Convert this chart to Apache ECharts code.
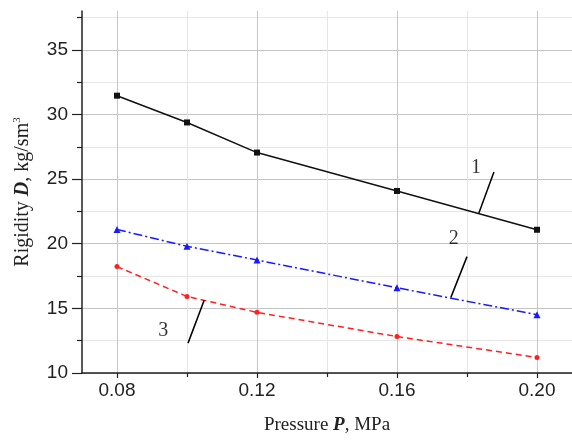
<!DOCTYPE html>
<html><head><meta charset="utf-8">
<script src="https://cdn.jsdelivr.net/npm/echarts@6/dist/echarts.min.js"></script>
<style>html,body{margin:0;padding:0;background:#fff}#c{width:572px;height:441px}</style>
</head><body><div id="c"></div>
<script>
const pressure = [0.08, 0.10, 0.12, 0.16, 0.20];
const rigidity1 = [31.45, 29.38, 27.05, 24.08, 21.08];
const rigidity2 = [21.1, 19.8, 18.74, 16.59, 14.51];
const rigidity3 = [18.23, 15.92, 14.69, 12.82, 11.2];
const xMajorTicks = [0.08, 0.12, 0.16, 0.20];
const xMinorTicks = [0.10, 0.14, 0.18];
const yMajorTicks = [10, 15, 20, 25, 30, 35];
const yMinorTicks = [12.5, 17.5, 22.5, 27.5, 32.5, 37.5];
const curveNames = ['1', '2', '3'];
const curveLabelPos = [[0.1826, 25.85], [0.1762, 20.4], [0.0932, 13.3]];
const leader1 = [[0.1877, 25.54], [0.1834, 22.38]];
const leader2 = [[0.1800, 19.0], [0.1754, 15.85]];
const leader3 = [[0.1049, 15.62], [0.1003, 12.31]];

const pair = (xs, ys) => xs.map((x, i) => [x, ys[i]]);
const tickFont = {fontFamily: 'Liberation Sans', fontSize: 19, color: '#222'};
const serif = 'Liberation Serif';

const chart = echarts.init(document.getElementById('c'));
chart.setOption({
  animation: false,
  backgroundColor: '#fff',
  grid: {left: 82, right: 0, top: 11, bottom: 68, containLabel: false, outerBoundsMode: 'none'},
  xAxis: [{
    type: 'value', min: 0.07, max: 0.21, gridIndex: 0,
    axisLine: {show: true, onZero: false, lineStyle: {color: '#222', width: 1.5}},
    axisTick: {show: true, customValues: xMajorTicks, length: 5, lineStyle: {color: '#222', width: 1.2}},
    axisLabel: Object.assign({customValues: xMajorTicks, margin: 8, formatter: v => v.toFixed(2)}, tickFont),
    splitLine: {show: true, lineStyle: {color: '#c6c6c6', width: 1}},
    name: '{a|Pressure }{b|P}{a|, MPa}', nameLocation: 'middle', nameGap: 43,
    nameTextStyle: {rich: {
      a: {fontFamily: serif, fontSize: 19, color: '#222'},
      b: {fontFamily: serif, fontSize: 19, color: '#222', fontWeight: 'bold', fontStyle: 'italic'}
    }}
  }, {
    type: 'value', min: 0.07, max: 0.21, gridIndex: 0, position: 'bottom',
    axisLine: {show: false, onZero: false},
    axisTick: {show: true, customValues: xMinorTicks, length: 4, lineStyle: {color: '#222', width: 1.2}},
    axisLabel: {show: false, customValues: xMinorTicks},
    splitLine: {show: true, lineStyle: {color: '#e6e6e6', width: 1}}
  }],
  yAxis: [{
    type: 'value', min: 10, max: 38, gridIndex: 0,
    axisLine: {show: true, onZero: false, lineStyle: {color: '#222', width: 1.5}},
    axisTick: {show: true, customValues: yMajorTicks, length: 10, lineStyle: {color: '#222', width: 1.2}},
    axisLabel: Object.assign({customValues: yMajorTicks, margin: 14}, tickFont),
    splitLine: {show: true, lineStyle: {color: '#c6c6c6', width: 1}},
    name: '{a|Rigidity }{b|D}{a|, kg/sm}{s|3}', nameLocation: 'middle', nameGap: 48, nameRotate: 90,
    nameTextStyle: {rich: {
      a: {fontFamily: serif, fontSize: 20, color: '#222', lineHeight: 22},
      b: {fontFamily: serif, fontSize: 20, color: '#222', fontWeight: 'bold', fontStyle: 'italic', lineHeight: 22},
      s: {fontFamily: serif, fontSize: 11, color: '#222', verticalAlign: 'top', lineHeight: 22}
    }}
  }, {
    type: 'value', min: 10, max: 38, gridIndex: 0, position: 'left',
    axisLine: {show: false, onZero: false},
    axisTick: {show: true, customValues: yMinorTicks, length: 5, lineStyle: {color: '#222', width: 1.2}},
    axisLabel: {show: false, customValues: yMinorTicks},
    splitLine: {show: true, lineStyle: {color: '#e6e6e6', width: 1}}
  }],
  series: [
    {type: 'line', data: pair(pressure, rigidity1), symbol: 'rect', symbolSize: 6,
     lineStyle: {color: '#111', width: 1.5}, itemStyle: {color: '#111'}, z: 5},
    {type: 'line', data: pair(pressure, rigidity2), symbol: 'triangle', symbolSize: 7,
     lineStyle: {color: '#1a1aff', width: 1.5, type: [9, 3, 2, 3]}, itemStyle: {color: '#1a1aff'}, z: 5},
    {type: 'line', data: pair(pressure, rigidity3), symbol: 'circle', symbolSize: 5,
     lineStyle: {color: '#ff2020', width: 1.5, type: [6, 4]}, itemStyle: {color: '#ff2020'}, z: 5},
    {type: 'line', data: leader1, symbol: 'none', silent: true, lineStyle: {color: '#000', width: 1.5}, z: 6},
    {type: 'line', data: leader2, symbol: 'none', silent: true, lineStyle: {color: '#000', width: 1.5}, z: 6},
    {type: 'line', data: leader3, symbol: 'none', silent: true, lineStyle: {color: '#000', width: 1.5}, z: 6},
    {type: 'scatter', symbolSize: 0, silent: true, z: 6,
     data: curveLabelPos.map((p, i) => ({name: curveNames[i], value: p})),
     label: {show: true, position: 'inside', formatter: p => p.name,
             fontFamily: serif, fontSize: 20, color: '#000'}}
  ]
});
</script></body></html>
